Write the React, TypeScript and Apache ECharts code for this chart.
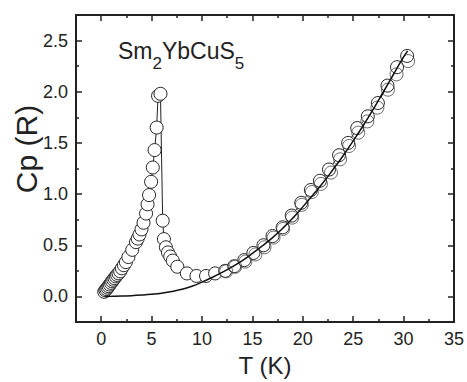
import React, { useEffect, useRef } from "react";
import * as echarts from "echarts";

// Measured data (run 1): [T (K), Cp (R)]
const run1: number[][] = [
  [0.3, 0.045], [0.42, 0.06], [0.52, 0.072], [0.63, 0.086], [0.74, 0.1], [0.85, 0.116],
  [0.97, 0.132], [1.08, 0.148], [1.2, 0.163], [1.32, 0.178], [1.45, 0.196], [1.58, 0.21],
  [1.72, 0.226], [1.88, 0.245], [2.05, 0.275], [2.25, 0.305], [2.45, 0.335], [2.7, 0.385],
  [3.08, 0.455], [3.45, 0.53], [3.62, 0.565], [3.8, 0.605], [4.0, 0.655], [4.2, 0.72],
  [4.45, 0.81], [4.6, 0.9], [4.75, 0.99], [4.95, 1.12], [5.12, 1.26], [5.3, 1.43],
  [5.5, 1.65], [5.64, 1.96], [5.88, 1.98],
  [6.1, 0.74], [6.22, 0.56], [6.42, 0.48], [6.62, 0.43], [6.85, 0.39], [7.1, 0.35],
  [7.55, 0.29], [8.5, 0.225], [9.45, 0.2], [10.4, 0.2], [11.3, 0.225], [12.3, 0.25],
  [13.2, 0.295], [14.2, 0.355], [15.1, 0.425], [16.1, 0.5], [17.0, 0.59], [18.0, 0.675],
  [18.9, 0.79], [19.85, 0.915], [20.8, 1.04], [21.7, 1.13], [22.6, 1.24], [23.6, 1.38],
  [24.5, 1.5], [25.4, 1.645], [26.45, 1.76], [27.45, 1.89], [28.4, 2.06], [29.35, 2.24],
  [30.35, 2.35],
];

// Measured data (run 2), slightly offset circles at higher T
const run2: number[][] = [
  [12.4, 0.245], [13.3, 0.29], [14.3, 0.34], [15.3, 0.41], [16.2, 0.48], [17.1, 0.575],
  [18.05, 0.66], [18.95, 0.77], [19.9, 0.895], [20.9, 1.02], [21.8, 1.1], [22.8, 1.21],
  [23.7, 1.34], [24.6, 1.47], [25.5, 1.6], [26.4, 1.71], [27.4, 1.845], [28.45, 2.02],
  [29.3, 2.17], [30.45, 2.3],
];

// Fitted lattice curve
const fit: number[][] = [
  [0.4, 0], [1, 0.001], [2, 0.003], [3, 0.007], [4, 0.013], [5, 0.021], [6, 0.032],
  [7, 0.048], [8, 0.07], [9, 0.1], [10, 0.14], [11, 0.185], [12, 0.235], [13, 0.29],
  [14, 0.35], [15, 0.42], [16, 0.495], [17, 0.575], [18, 0.665], [19, 0.765], [20, 0.875],
  [21, 0.99], [22, 1.11], [23, 1.24], [24, 1.375], [25, 1.52], [26, 1.67], [27, 1.83],
  [28, 2.0], [29, 2.17], [30, 2.34], [30.4, 2.4],
];

const xMajor = [0, 5, 10, 15, 20, 25, 30, 35];
const xMinor = [2.5, 7.5, 12.5, 17.5, 22.5, 27.5, 32.5];
const yMajor = [0, 0.5, 1.0, 1.5, 2.0, 2.5];
const yMinor = [0.25, 0.75, 1.25, 1.75, 2.25];

const X_MIN = -2.5, X_MAX = 35, Y_MIN = -0.25, Y_MAX = 2.75;
const INK = "#222";
const FONT = "'Liberation Sans', Arial, sans-serif";

// Formula label pieces: [text, isSubscript]
const formula: [string, boolean][] = [["Sm", false], ["2", true], ["YbCuS", false], ["5", true]];

export default function App() {
  const ref = useRef<HTMLDivElement>(null);
  useEffect(() => {
    if (!ref.current) return;
    const chart = echarts.init(ref.current, undefined, { renderer: "svg" });

    const xAx = (position: string, ticks: number[], len: number, labels: boolean, line: boolean) => ({
      type: "value", position, min: X_MIN, max: X_MAX,
      axisLine: { show: line, onZero: false, lineStyle: { color: INK, width: 2 } },
      axisTick: { show: true, inside: true, length: len, customValues: ticks, lineStyle: { color: INK, width: 1.5 } },
      axisLabel: labels
        ? { show: true, customValues: xMajor, fontSize: 18, margin: 8, color: INK, fontFamily: FONT }
        : { show: false },
      splitLine: { show: false },
    });
    const yAx = (position: string, ticks: number[], len: number, labels: boolean, line: boolean) => ({
      type: "value", position, min: Y_MIN, max: Y_MAX,
      axisLine: { show: line, onZero: false, lineStyle: { color: INK, width: 2 } },
      axisTick: { show: true, inside: true, length: len, customValues: ticks, lineStyle: { color: INK, width: 1.5 } },
      axisLabel: labels
        ? { show: true, customValues: yMajor, fontSize: 18, margin: 8, color: INK, fontFamily: FONT,
            formatter: (v: number) => v.toFixed(1) }
        : { show: false },
      splitLine: { show: false },
    });

    const xMain: any = xAx("bottom", xMajor, 6, true, true);
    xMain.name = "T (K)";
    xMain.nameLocation = "middle";
    xMain.nameGap = 31;
    xMain.nameTextStyle = { fontSize: 24, color: INK, fontFamily: FONT };

    // Lay out formula pieces using measured text widths
    const formulaEls: any[] = [];
    let fx = 118;
    for (const [txt, sub] of formula) {
      const size = sub ? 17 : 23;
      const font = `${size}px ${FONT}`;
      const w = echarts.format.getTextRect
        ? (echarts.format as any).getTextRect(txt, font).width
        : txt.length * size * 0.6;
      formulaEls.push({
        type: "text", x: fx, y: sub ? 63 : 51,
        style: { text: txt, fontSize: size, fontFamily: FONT, fill: INK, align: "left", verticalAlign: "middle" },
      });
      fx += w;
    }

    chart.setOption({
      animation: false,
      backgroundColor: "#fff",
      grid: { left: 76, right: 11, top: 15, bottom: 60, containLabel: false },
      xAxis: [
        xMain,
        xAx("bottom", xMinor, 3, false, false),
        xAx("top", xMajor, 6, false, true),
        xAx("top", xMinor, 3, false, false),
      ],
      yAxis: [
        yAx("left", yMajor, 6, true, true),
        yAx("left", yMinor, 3, false, false),
        yAx("right", yMajor, 6, false, true),
        yAx("right", yMinor, 3, false, false),
      ],
      graphic: [
        {
          type: "text", x: 26, y: 149, rotation: Math.PI / 2,
          style: { text: "Cp (R)", fontSize: 30, fontFamily: FONT, fill: INK, align: "center", verticalAlign: "middle" },
        },
        ...formulaEls,
      ],
      series: [
        {
          type: "line", data: run1, xAxisIndex: 0, yAxisIndex: 0, z: 2,
          symbol: "circle", symbolSize: 13, showAllSymbol: true,
          itemStyle: { color: "#fff", borderColor: INK, borderWidth: 1 },
          lineStyle: { color: INK, width: 1 },
        },
        {
          type: "scatter", data: run2, xAxisIndex: 0, yAxisIndex: 0, z: 3,
          symbol: "circle", symbolSize: 13,
          itemStyle: { color: "rgba(0,0,0,0)", borderColor: "#444", borderWidth: 1 },
        },
        {
          type: "line", data: fit, xAxisIndex: 0, yAxisIndex: 0, z: 4,
          symbol: "none", smooth: true,
          lineStyle: { color: "#111", width: 1.5 },
        },
      ],
    });
    return () => chart.dispose();
  }, []);
  return <div ref={ref} style={{ position: "absolute", left: 0, top: 0, width: 467, height: 382, background: "#fff" }} />;
}
